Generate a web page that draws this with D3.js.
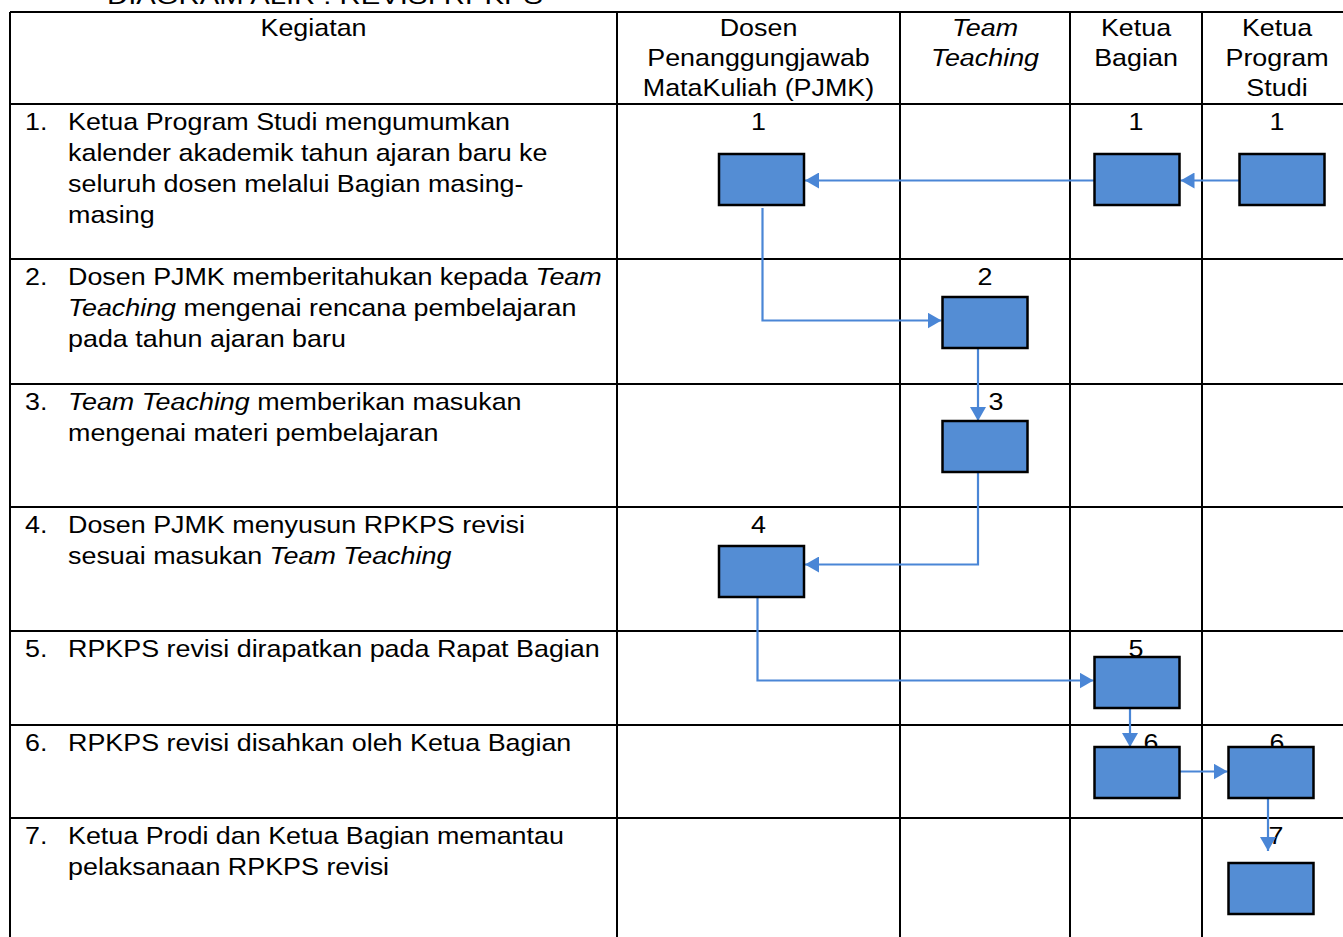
<!DOCTYPE html>
<html lang="id">
<head>
<meta charset="UTF-8">
<title>Diagram Alir Revisi RPKPS</title>
<script src="https://cdn.jsdelivr.net/npm/d3@7/dist/d3.min.js"></script>
<style>
  body { margin: 0; background: #fff; }
  svg text { font-family: "Liberation Sans", Arial, sans-serif; fill: #000; }
</style>
</head>
<body>
<svg id="chart" width="1343" height="937"></svg>
<script>
// ---- data ----
var title = 'DIAGRAM ALIR : REVISI RPKPS';
var lanes = ['Kegiatan', 'PJMK', 'TT', 'KB', 'KPS'];
var laneHeaders = [
  ['Kegiatan'],
  ['Dosen', 'Penanggungjawab', 'MataKuliah (PJMK)'],
  ['*Team*', '*Teaching*'],
  ['Ketua', 'Bagian'],
  ['Ketua', 'Program', 'Studi']
];
// activity text, *..* = italic
var activities = [
  ['Ketua Program Studi mengumumkan', 'kalender akademik tahun ajaran baru ke', 'seluruh dosen melalui Bagian masing-', 'masing'],
  ['Dosen PJMK memberitahukan kepada *Team*', '*Teaching* mengenai rencana pembelajaran', 'pada tahun ajaran baru'],
  ['*Team Teaching* memberikan masukan', 'mengenai materi pembelajaran'],
  ['Dosen PJMK menyusun RPKPS revisi', 'sesuai masukan *Team Teaching*'],
  ['RPKPS revisi dirapatkan pada Rapat Bagian'],
  ['RPKPS revisi disahkan oleh Ketua Bagian'],
  ['Ketua Prodi dan Ketua Bagian memantau', 'pelaksanaan RPKPS revisi']
];
// process boxes: id, step (row), lane
var boxes = [
  {id: 'p1', step: 1, lane: 'PJMK'},
  {id: 'k1', step: 1, lane: 'KB'},
  {id: 's1', step: 1, lane: 'KPS'},
  {id: 't2', step: 2, lane: 'TT'},
  {id: 't3', step: 3, lane: 'TT'},
  {id: 'p4', step: 4, lane: 'PJMK'},
  {id: 'k5', step: 5, lane: 'KB'},
  {id: 'k6', step: 6, lane: 'KB'},
  {id: 's6', step: 6, lane: 'KPS'},
  {id: 's7', step: 7, lane: 'KPS'}
];
// step numbers written in the lanes
var stepLabels = [
  {step: 1, lane: 'PJMK'}, {step: 1, lane: 'KB'}, {step: 1, lane: 'KPS'},
  {step: 2, lane: 'TT'}, {step: 3, lane: 'TT'}, {step: 4, lane: 'PJMK'},
  {step: 5, lane: 'KB'}, {step: 6, lane: 'KB'}, {step: 6, lane: 'KPS'},
  {step: 7, lane: 'KPS'}
];
// flow: from -> to, route: h = straight horizontal, v = straight vertical, d = down then sideways
var flows = [
  {from: 's1', to: 'k1', route: 'h'},
  {from: 'k1', to: 'p1', route: 'h'},
  {from: 'p1', to: 't2', route: 'd'},
  {from: 't2', to: 't3', route: 'v'},
  {from: 't3', to: 'p4', route: 'd'},
  {from: 'p4', to: 'k5', route: 'd'},
  {from: 'k5', to: 'k6', route: 'v'},
  {from: 'k6', to: 's6', route: 'h'},
  {from: 's6', to: 's7', route: 'v'}
];

// ---- layout ----
var colEdges = [10, 617, 900, 1070, 1202, 1352];
var rowEdges = [12, 104, 259, 384, 507, 631, 725, 818, 970];
var boxW = 85, boxH = 51;
var fontSize = 24, stretch = 1.12;
// box offsets inside its cell (top from row top, x shift from lane centre)
var boxPos = {
  p1: [50, 3], k1: [50, 1], s1: [50, 5],
  t2: [38, 0], t3: [37, 0], p4: [39, 3],
  k5: [26, 1], k6: [22, 1], s6: [22, -6], s7: [45, -6]
};
// connector tweaks: dx from source centre, dy from target centre
var flowPos = {
  'p1t2': [1, -2], 't2t3': [-7, 0], 't3p4': [-7, -7], 'p4k5': [-4, -2],
  'k5k6': [-7, 0], 's6s7': [-3, 0], 's1k1': [0, 1], 'k1p1': [0, 1], 'k6s6': [0, -1]
};
var labelShift = {'3TT': 11, '6KB': 15, '7KPS': -1};
var blue = '#548dd4', lineBlue = '#4a86d6';

var svg = d3.select('#chart');
var laneX = d3.scaleOrdinal().domain(lanes).range(colEdges.slice(0, -1));
var laneW = d3.scaleOrdinal().domain(lanes).range(d3.pairs(colEdges).map(function(p) { return p[1] - p[0]; }));
var rowY = d3.scaleLinear().domain(d3.range(0, rowEdges.length)).range(rowEdges);
function laneMid(l) { return laneX(l) + laneW(l) / 2; }

// text placed through a transform so it can be widened like the original
function addText(parent, x, y, str, anchor, sx) {
  var t = parent.append('text')
    .attr('transform', 'translate(' + x + ',' + y + ') scale(' + (sx || stretch) + ',1)')
    .attr('font-size', fontSize)
    .attr('text-anchor', anchor || 'start');
  String(str).split('*').forEach(function(p, i) {
    if (!p) return;
    t.append('tspan').text(p).attr('font-style', i % 2 ? 'italic' : 'normal');
  });
  return t;
}

// title (cut by the top edge, as in the original)
addText(svg, 107, 4, title, 'start', 1.22);

// grid lines
var grid = svg.append('g').attr('stroke', '#000').attr('stroke-width', 2);
colEdges.forEach(function(x) {
  grid.append('line').attr('x1', x).attr('x2', x).attr('y1', rowEdges[0]).attr('y2', rowEdges[rowEdges.length - 1]);
});
rowEdges.forEach(function(y) {
  grid.append('line').attr('x1', colEdges[0]).attr('x2', colEdges[colEdges.length - 1]).attr('y1', y).attr('y2', y);
});

// headers
laneHeaders.forEach(function(lines, i) {
  lines.forEach(function(ln, j) {
    addText(svg, laneMid(lanes[i]), rowEdges[0] + 24 + j * 30, ln, 'middle');
  });
});

// activity text
activities.forEach(function(lines, i) {
  var top = rowY(i + 1);
  addText(svg, 25, top + 26, (i + 1) + '.');
  lines.forEach(function(ln, j) {
    addText(svg, 68, top + 26 + j * 31, ln);
  });
});

// step numbers
stepLabels.forEach(function(d) {
  addText(svg, laneMid(d.lane) + (labelShift[d.step + d.lane] || 0), rowY(d.step) + 26, d.step, 'middle');
});

// box geometry
var boxById = {};
boxes.forEach(function(b) {
  var off = boxPos[b.id];
  b.x = laneMid(b.lane) + off[1] - boxW / 2;
  b.y = rowY(b.step) + off[0];
  b.cx = b.x + boxW / 2;
  b.cy = b.y + boxH / 2;
  boxById[b.id] = b;
});

// arrow marker
svg.append('defs').append('marker')
  .attr('id', 'arr').attr('viewBox', '0 0 14 16').attr('refX', 14).attr('refY', 8)
  .attr('markerWidth', 14).attr('markerHeight', 16).attr('markerUnits', 'userSpaceOnUse')
  .attr('orient', 'auto')
  .append('path').attr('d', 'M0,0 L14,8 L0,16 Z').attr('fill', lineBlue);

var line = d3.line();
svg.append('g').selectAll('path').data(flows).enter().append('path')
  .attr('fill', 'none').attr('stroke', lineBlue).attr('stroke-width', 2.2)
  .attr('marker-end', 'url(#arr)')
  .attr('d', function(f) {
    var a = boxById[f.from], b = boxById[f.to], pts;
    var tw = flowPos[f.from + f.to] || [0, 0];
    if (f.route === 'h') {
      var y = b.cy + tw[1];
      pts = a.x > b.x ? [[a.x, y], [b.x + boxW + 1, y]] : [[a.x + boxW, y], [b.x - 1, y]];
    } else if (f.route === 'v') {
      var x = a.cx + tw[0];
      pts = [[x, a.y + boxH], [x, f.to === 's7' ? b.y - 12 : b.y]];
    } else {
      var sx = a.cx + tw[0], sy = a.y + boxH + (f.from === 'p1' ? 3 : 1);
      var ty = b.cy + tw[1];
      pts = b.x > a.x ? [[sx, sy], [sx, ty], [b.x - 1, ty]] : [[sx, sy], [sx, ty], [b.x + boxW + 1, ty]];
    }
    return line(pts);
  });

// boxes
svg.append('g').selectAll('rect').data(boxes).enter().append('rect')
  .attr('x', function(d) { return d.x; })
  .attr('y', function(d) { return d.y; })
  .attr('width', boxW).attr('height', boxH)
  .attr('fill', blue).attr('stroke', '#000').attr('stroke-width', 2.5);
</script>
</body>
</html>
